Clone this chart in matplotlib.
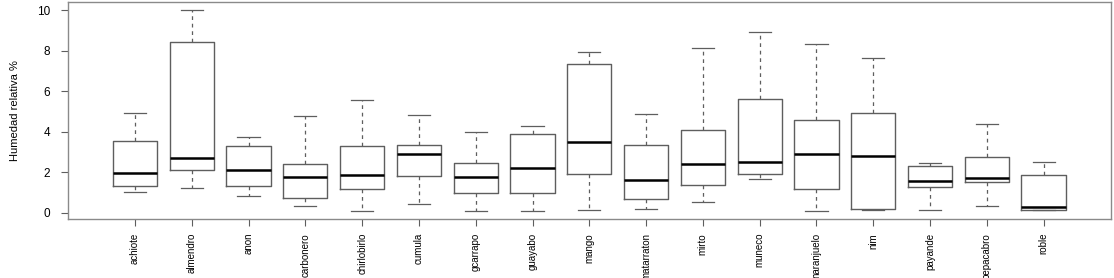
import matplotlib
matplotlib.use('Agg')
import matplotlib.pyplot as plt
from matplotlib import font_manager

names = ['achiote', 'almendro', 'anon', 'carbonero', 'chirlobirlo', 'cumula',
         'gcarrapo', 'guayabo', 'mango', 'matarraton', 'mirto', 'muneco',
         'naranjuelo', 'nim', 'payande', 'pepacabro', 'roble']
whislo = [1.03, 1.21, 0.85, 0.33, 0.10, 0.44, 0.11, 0.08, 0.13, 0.20, 0.52, 1.67, 0.08, 0.13, 0.13, 0.36, 0.13]
q1 = [1.34, 2.13, 1.34, 0.72, 1.18, 1.82, 0.98, 0.96, 1.93, 0.69, 1.39, 1.93, 1.18, 0.21, 1.26, 1.54, 0.16]
med = [1.97, 2.72, 2.10, 1.79, 1.88, 2.92, 1.77, 2.23, 3.51, 1.62, 2.39, 2.49, 2.92, 2.83, 1.57, 1.74, 0.28]
q3 = [3.57, 8.41, 3.28, 2.39, 3.31, 3.34, 2.47, 3.90, 7.33, 3.34, 4.08, 5.61, 4.57, 4.92, 2.33, 2.74, 1.87]
whishi = [4.92, 10.0, 3.72, 4.80, 5.59, 4.83, 4.00, 4.31, 7.92, 4.87, 8.12, 8.93, 8.31, 7.62, 2.44, 4.39, 2.52]

avail = {f.name for f in font_manager.fontManager.ttflist}
fam = 'Liberation Sans Narrow' if 'Liberation Sans Narrow' in avail else 'Liberation Sans'
plt.rcParams['font.family'] = [fam, 'DejaVu Sans']

stats = []
for i in range(len(names)):
    stats.append({'whislo': whislo[i], 'q1': q1[i], 'med': med[i], 'q3': q3[i],
                  'whishi': whishi[i], 'fliers': [], 'label': names[i]})

fig = plt.figure(figsize=(11.14, 2.78), dpi=100)
ax = fig.add_axes([0.061, 0.212, 0.936, 0.781])

grey = '#5e5e5e'
ax.bxp(stats, positions=range(1, len(names) + 1), widths=0.78, showfliers=False,
       boxprops=dict(color=grey, linewidth=1.0),
       whiskerprops=dict(color=grey, linewidth=0.9, linestyle=(0, (3, 3))),
       capprops=dict(color=grey, linewidth=0.9),
       medianprops=dict(color='black', linewidth=1.8),
       capwidths=0.39)

n = len(names)
ax.set_xlim(0.5 - 0.04 * n, n + 0.5 + 0.04 * n)
ax.set_ylim(-0.3, 10.4)
ax.set_yticks([0, 2, 4, 6, 8, 10])
ax.set_xticks(range(1, n + 1))
ax.set_xticklabels(names, rotation=90, fontsize=7)
ax.tick_params(axis='y', labelsize=8.5, length=5, width=0.8, color=grey, pad=8)
ax.tick_params(axis='x', length=5, width=0.8, color=grey, pad=5)
for s in ax.spines.values():
    s.set_color('#8a8a8a')
    s.set_linewidth(1.0)
ax.set_ylabel('Humedad relativa %', fontsize=8, labelpad=12)

fig.savefig('out.png', dpi=100)
